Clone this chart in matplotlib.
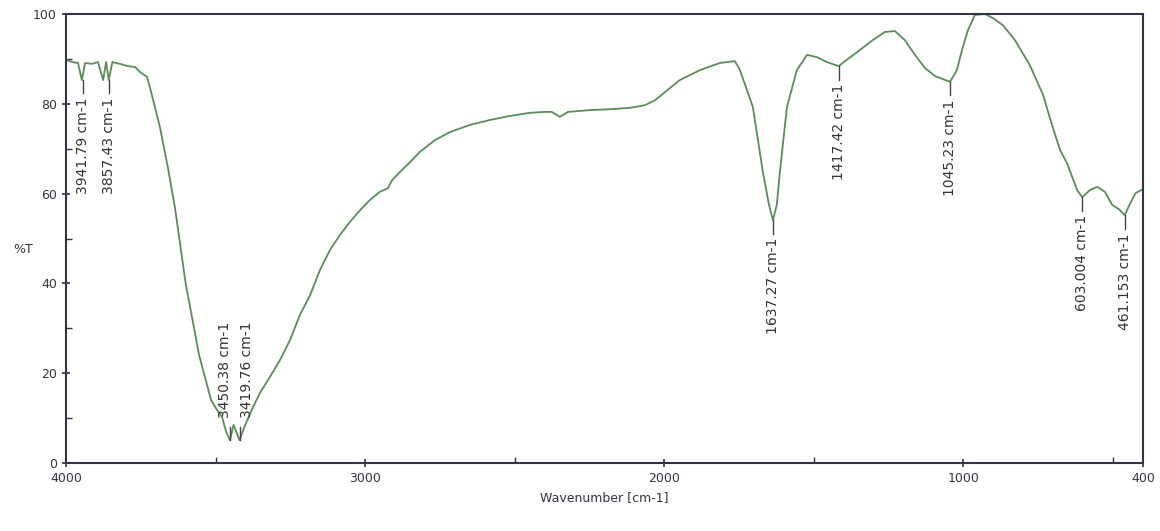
import matplotlib
matplotlib.use('Agg')
import matplotlib.pyplot as plt
from matplotlib.ticker import MultipleLocator

# Data
wavenumber = [4000, 3980, 3960, 3947, 3936, 3913, 3893, 3876, 3866, 3857, 3845,
              3820, 3793, 3769, 3753, 3729, 3715, 3686, 3660, 3636, 3600,
              3555, 3515, 3495, 3478, 3465, 3452, 3440, 3420, 3405, 3385,
              3352, 3318, 3285, 3251, 3218, 3184, 3151, 3118, 3084, 3051,
              3017, 2984, 2951, 2924, 2910, 2884, 2850, 2817, 2767, 2717,
              2650, 2583, 2516, 2449, 2399, 2376, 2349, 2322, 2249, 2182,
              2115, 2065, 2031, 1998, 1948, 1881, 1814, 1764, 1747, 1704,
              1670, 1650, 1637, 1624, 1614, 1590, 1557, 1523, 1490, 1457,
              1417, 1390, 1346, 1303, 1263, 1229, 1196, 1162, 1129, 1096,
              1045, 1022, 1005, 985, 962, 928, 902, 868, 828, 778,
              734, 704, 677, 654, 620, 603, 577, 553, 527, 503,
              480, 461, 445, 425, 400]
transmittance = [89.8, 89.3, 89.1, 85.3, 89.1, 88.9, 89.3, 85.3, 89.3, 85.3, 89.3,
                 88.9, 88.4, 88.2, 87.1, 86.0, 82.5, 74.8, 66.0, 57.0, 40.0,
                 24.0, 14.0, 11.8, 10.2, 7.0, 5.1, 8.5, 5.1, 7.8, 11.0,
                 15.6, 19.2, 22.9, 27.4, 33.0, 37.4, 43.0, 47.4, 50.8, 53.7,
                 56.3, 58.6, 60.4, 61.2, 63.0, 64.8, 67.0, 69.3, 71.9, 73.7,
                 75.3, 76.4, 77.3, 78.0, 78.2, 78.2, 77.1, 78.2, 78.6, 78.8,
                 79.1, 79.7, 80.8, 82.6, 85.3, 87.5, 89.1, 89.5, 87.5, 79.3,
                 64.6, 57.5, 54.1, 57.5, 64.6, 79.3, 87.5, 90.9, 90.4, 89.3,
                 88.4, 89.8, 92.0, 94.2, 96.0, 96.2, 94.2, 90.9, 88.0, 86.2,
                 84.9, 87.5, 92.0, 96.4, 99.8, 100.0, 99.1, 97.5, 94.2, 88.6,
                 82.0, 75.3, 69.7, 66.8, 60.8, 59.2, 60.8, 61.5, 60.4, 57.5,
                 56.5, 55.2, 57.5, 60.1, 61.0]

peak_pos = [3941.79, 3857.43, 3450.38, 3419.76, 1637.27, 1417.42, 1045.23, 603.004, 461.153]
peak_val = [85.3, 85.3, 5.1, 5.1, 54.1, 88.4, 84.9, 59.2, 55.2]
peak_text = ['3941.79 cm-1', '3857.43 cm-1', '3450.38 cm-1', '3419.76 cm-1',
             '1637.27 cm-1', '1417.42 cm-1', '1045.23 cm-1', '603.004 cm-1', '461.153 cm-1']
peak_below = [True, True, False, False, True, True, True, True, True]
label_dx = [0, 0, -4, 5, 0, 0, 0, 0, 0]   # small sideways nudge in points

# Plotting
fig = plt.figure(figsize=(11.6, 5.31), dpi=100)
ax = fig.add_axes([0.0569, 0.128, 0.9284, 0.8456])
ax.plot(wavenumber, transmittance, color='#5b8c5a', linewidth=1.3)

label_font = ['Liberation Sans Narrow', 'DejaVu Sans']
for pos, val, txt, below, dx in zip(peak_pos, peak_val, peak_text, peak_below, label_dx):
    if below:
        ax.plot([pos, pos], [val, val - 3], color='#444444', linewidth=1)
        ax.annotate(txt, (pos, val - 4), xytext=(dx, 0), textcoords='offset points',
                    rotation=90, ha='center', va='top', fontsize=10,
                    family=label_font, color='#333333')
    else:
        ax.plot([pos, pos], [val, val + 3], color='#444444', linewidth=1)
        ax.annotate(txt, (pos, val + 5), xytext=(dx, 0), textcoords='offset points',
                    rotation=90, ha='center', va='bottom', fontsize=10,
                    family=label_font, color='#333333')

# Customization
ax.set_xlim(4000, 400)
ax.set_ylim(0, 100)
ax.set_xticks([4000, 3000, 2000, 1000, 400])
ax.xaxis.set_minor_locator(MultipleLocator(500))
ax.set_yticks([0, 20, 40, 60, 80, 100])
ax.yaxis.set_minor_locator(MultipleLocator(10))
ax.tick_params(which='major', direction='inout', length=6, labelsize=9,
               colors='#333344', width=1.2)
ax.tick_params(which='minor', direction='in', length=4, colors='#333344', width=1)
for s in ax.spines.values():
    s.set_color('#333344')
    s.set_linewidth(1.5)
ax.set_xlabel('Wavenumber [cm-1]', fontsize=9, color='#333344')
ax.set_ylabel('%T', fontsize=9, rotation=0, color='#333344')
ax.yaxis.set_label_coords(-0.04, 0.46)

fig.savefig('out.png', dpi=100)
